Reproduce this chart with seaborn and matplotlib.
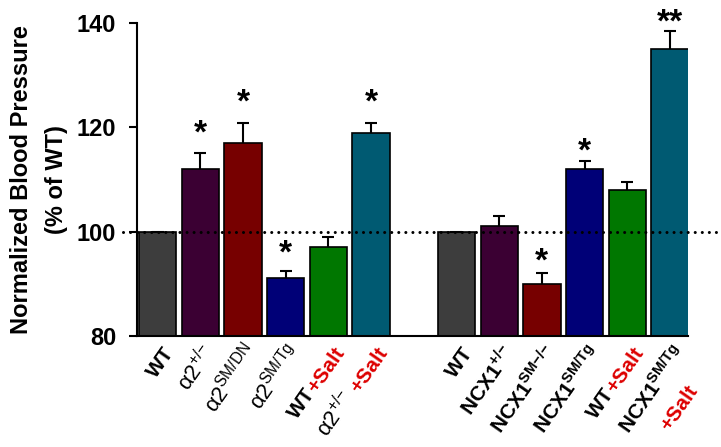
import numpy as np
import pandas as pd
import seaborn as sns
import matplotlib.pyplot as plt
import matplotlib.transforms as mtransforms

sns.set_style("white")
plt.rcParams['font.family'] = ['Liberation Sans', 'DejaVu Sans']
for k in ['text.color', 'axes.labelcolor', 'xtick.color', 'ytick.color', 'axes.edgecolor']:
    plt.rcParams[k] = 'black'

# ---------------- data ----------------
keys = ['WT_a', 'a2_het', 'a2_smdn', 'a2_smtg', 'WT_salt_a', 'a2_het_salt',
        'WT_b', 'ncx_het', 'ncx_smko', 'ncx_smtg', 'WT_salt_b', 'ncx_smtg_salt']
values = [100, 112, 117, 91.1, 97, 119,
          100, 101, 90, 112, 108, 135]
errors = [0, 3, 3.9, 1.4, 2, 1.8,
          0, 2, 2, 1.5, 1.5, 3.4]
stars = ['', '*', '*', '*', '', '*',
         '', '', '*', '*', '', '**']
star_y = [None, 120.6, 126.6, 97.6, None, 126.6,
          None, None, 96.1, 117.2, None, 141.9]
colors = ['#3d3d3d', '#3b0033', '#770000', '#000077', '#007700', '#005a72',
          '#3d3d3d', '#3b0033', '#770000', '#000077', '#007700', '#005a72']
yticks = [80, 100, 120, 140]
reference_level = 100

K, R = 'black', '#dd0000'
# each label: list of lines; each line: list of (text, colour, weight, size)
tick_labels = [
    [[('WT', K, 'bold', 15)]],
    [[('α2$^{\\mathregular{{+}/{-}}}$', K, 'normal', 16)]],
    [[('α2$^{\\mathregular{SM/DN}}$', K, 'normal', 16)]],
    [[('α2$^{\\mathregular{SM/Tg}}$', K, 'normal', 16)]],
    [[('WT', K, 'bold', 15), ('+Salt', R, 'bold', 15)]],
    [[('α2$^{\\mathregular{{+}/{-}}}$ ', K, 'normal', 16), ('+Salt', R, 'bold', 15)]],
    [[('WT', K, 'bold', 15)]],
    [[('NCX1$^{\\mathregular{{+}/{-}}}$', K, 'bold', 15)]],
    [[('NCX1$^{\\mathregular{SM{-}/{-}}}$', K, 'bold', 15)]],
    [[('NCX1$^{\\mathregular{SM/Tg}}$', K, 'bold', 15)]],
    [[('WT', K, 'bold', 15), ('+Salt', R, 'bold', 15)]],
    [[('NCX1$^{\\mathregular{SM/Tg}}$', K, 'bold', 15)], [('+Salt', R, 'bold', 15)]],
]

order = keys[:6] + ['gap'] + keys[6:]
df = pd.DataFrame({'key': keys, 'value': values})

# ---------------- figure ----------------
fig = plt.figure(figsize=(7.21, 4.47), dpi=100)
ax = fig.add_axes([137 / 721, 111 / 447, 551 / 721, 313 / 447])

sns.barplot(data=df, x='key', y='value', hue='key', order=order,
            hue_order=keys, palette=dict(zip(keys, colors)), dodge=False,
            legend=False, width=0.87, edgecolor='black', linewidth=1.2,
            errorbar=None, saturation=1, ax=ax)

pos = [order.index(k) for k in keys]
eb = ax.errorbar(pos, values, yerr=[np.zeros(len(errors)), errors], fmt='none',
                 ecolor='black', elinewidth=1.5, capsize=4, capthick=1.5, zorder=1)
eb[1][0].set_visible(False)

ax.set_ylim(80, 140)
ax.set_xlim(-0.48, 12.42)
ax.set_yticks(yticks)
ax.set_yticklabels([str(t) for t in yticks], fontsize=17, fontweight='bold')
ax.tick_params(axis='y', direction='out', length=6, width=1.5, pad=9, left=True)
ax.tick_params(axis='x', length=0)
ax.set_xticks([])
ax.set_xlabel('')
ax.set_ylabel('Normalized Blood Pressure\n(% of WT)', fontsize=17,
              fontweight='bold', linespacing=1.65)
ax.yaxis.set_label_coords(-0.125, 0.5)
for side in ['top', 'right']:
    ax.spines[side].set_visible(False)
for side in ['left', 'bottom']:
    ax.spines[side].set_linewidth(1.5)
    ax.spines[side].set_color('black')

# dotted reference line
blend = mtransforms.blended_transform_factory(ax.transAxes, ax.transData)
ax.plot([-0.025, 1.058], [reference_level, reference_level], transform=blend,
        color='black', lw=2.2, linestyle=(0, (0.01, 2.3)),
        dash_capstyle='round', clip_on=False, zorder=6)

# significance stars
star_fs = 24
for p, s, y in zip(pos, stars, star_y):
    if s:
        ax.annotate(s, (p, y), xytext=(0, -0.55 * star_fs), textcoords='offset points',
                    ha='center', va='baseline', fontsize=star_fs, fontweight='bold',
                    annotation_clip=False)

# rotated multi-colour tick labels
renderer = fig.canvas.get_renderer()
theta = 55
u = np.array([np.cos(np.radians(theta)), np.sin(np.radians(theta))])
nvec = np.array([np.sin(np.radians(theta)), -np.cos(np.radians(theta))])
base = np.array([12.0, -11.5])
line_sp = 23.0
gap_pts = 4.0
xblend = mtransforms.blended_transform_factory(ax.transData, ax.transAxes)


def seg_width(s, weight, size):
    t = fig.text(0, 0, s, fontsize=size, fontweight=weight)
    w = t.get_window_extent(renderer).width
    t.remove()
    return w * 72 / fig.dpi


for p, lines in zip(pos, tick_labels):
    widths = []
    for line in lines:
        ws = []
        for txt, col, wt, sz in line:
            w = seg_width(txt.rstrip(), wt, sz)
            if txt.endswith(' '):
                w += gap_pts
            ws.append(w)
        widths.append(ws)
    w0 = sum(widths[0])
    for i, (line, ws) in enumerate(zip(lines, widths)):
        shift = -(w0 - sum(ws)) / 2.0
        for j, (txt, col, wt, sz) in enumerate(line):
            r = shift - sum(ws[j + 1:])
            if txt.endswith(' '):
                r -= gap_pts
            off = base + r * u + i * line_sp * nvec
            ax.annotate(txt.rstrip(), (p, 0), xycoords=xblend, xytext=tuple(off),
                        textcoords='offset points', ha='right', va='baseline',
                        rotation=theta, rotation_mode='anchor', fontsize=sz,
                        fontweight=wt, color=col, annotation_clip=False)

fig.savefig('out.png', dpi=100)
